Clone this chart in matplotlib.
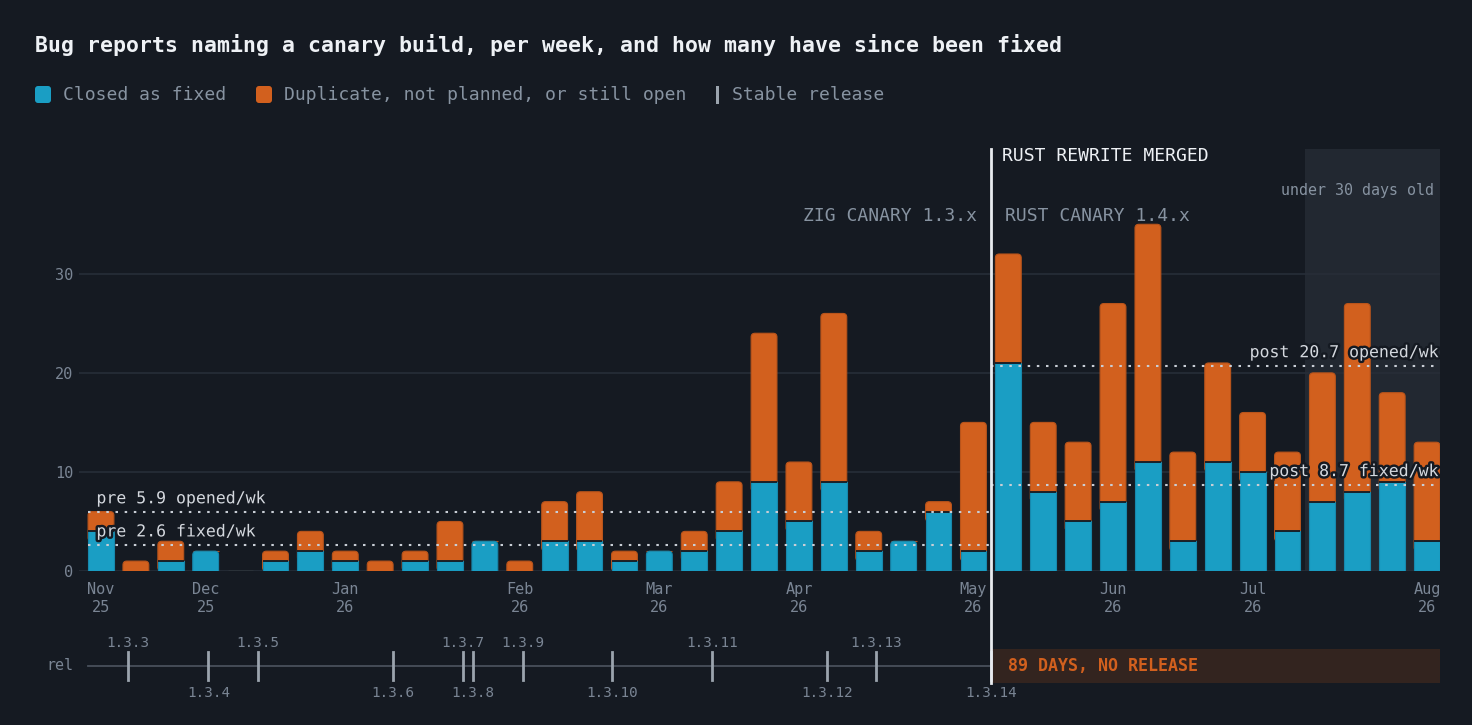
import matplotlib
matplotlib.use('Agg')
from matplotlib import pyplot as plt
from matplotlib.patches import FancyBboxPatch, Rectangle
from matplotlib.transforms import IdentityTransform, blended_transform_factory
import matplotlib.patheffects as pe
import numpy as np

# weekly counts, Nov 2025 -> Aug 2026
fixed = [4, 0, 1, 2, 0, 1, 2, 1, 0, 1, 1, 3, 0, 3, 3, 1, 2, 2, 4, 9, 5, 9, 2, 3, 6, 2,
         21, 8, 5, 7, 11, 3, 11, 10, 4, 7, 8, 9, 3]
opened = [6, 1, 3, 2, 0, 2, 4, 2, 1, 2, 5, 3, 1, 7, 8, 2, 2, 4, 9, 24, 11, 26, 4, 3, 7, 15,
          32, 15, 13, 27, 35, 12, 21, 16, 12, 20, 27, 18, 13]
month_idx = [0, 3, 7, 12, 16, 20, 25, 29, 33, 38]
month_labels = ['Nov\n25', 'Dec\n25', 'Jan\n26', 'Feb\n26', 'Mar\n26', 'Apr\n26',
                'May\n26', 'Jun\n26', 'Jul\n26', 'Aug\n26']
rewrite_week = 26          # first week on the rust canary
recent_from = 35           # weeks under 30 days old
releases = ['1.3.3', '1.3.4', '1.3.5', '1.3.6', '1.3.7', '1.3.8', '1.3.9',
            '1.3.10', '1.3.11', '1.3.12', '1.3.13', '1.3.14']
release_pos = [0.78, 3.08, 4.5, 8.36, 10.36, 10.65, 12.08, 14.65, 17.5, 20.8, 22.22, 25.5]

W, H = 1472, 725
BG = '#151a22'
BLUE = '#1a9ec4'
ORANGE = '#d2601e'
GRID = '#272e38'
MUTED = '#8793a1'
TICK = '#7a8594'
MONO = 'DejaVu Sans Mono'

fixed = np.array(fixed)
opened = np.array(opened)
other = opened - fixed
x = np.arange(len(fixed))

def px(xp, yp):
    return xp / W, 1 - yp / H

fig = plt.figure(figsize=(W / 100, H / 100), dpi=100, facecolor=BG)
plt.rcParams['font.family'] = MONO

ax = fig.add_axes([79 / W, 1 - 571 / H, (1440 - 79) / W, (571 - 149) / H])
ax.set_facecolor(BG)
xmin, xmax = -0.63, 38.37
ax.set_xlim(xmin, xmax)
ax.set_ylim(0, 42.6)
for s in ax.spines.values():
    s.set_visible(False)
ax.set_yticks([0, 10, 20, 30])
ax.grid(axis='y', color=GRID, lw=1.2, zorder=0.5)
ax.set_axisbelow(True)
ax.tick_params(axis='y', length=0, pad=4, labelsize=11, labelcolor=TICK)
ax.set_xticks(month_idx)
ax.set_xticklabels(month_labels, linespacing=1.2)
ax.tick_params(axis='x', length=0, pad=8, labelsize=11, labelcolor=TICK)

ax.axvspan(recent_from - 0.5, xmax, color='#222831', zorder=0.2, lw=0)

# bars, then round the top segment of each stack
bw = 0.74
aspect = (42.6 / 422) / ((xmax - xmin) / 1361)
b_fixed = ax.bar(x, fixed, bw, color=BLUE, edgecolor='#1788ad', lw=0.8, zorder=2)
b_other = ax.bar(x, other, bw, bottom=fixed, color=ORANGE, edgecolor='#b9541b', lw=0.8, zorder=2)
for rf, ro in zip(b_fixed, b_other):
    top = ro if ro.get_height() > 0 else rf
    if top.get_height() <= 0:
        continue
    x0, y0, w, h = top.get_x(), top.get_y(), top.get_width(), top.get_height()
    rr = FancyBboxPatch((x0, y0 - 1), w, h + 1,
                        boxstyle='round,pad=0,rounding_size=0.11', mutation_aspect=aspect,
                        fc=top.get_facecolor(), ec=top.get_edgecolor(), lw=0.8, zorder=2)
    ax.add_patch(rr)
    top.set_visible(False)
    if top is ro and rf.get_height() > 0:
        rf.set_zorder(3)
        ax.plot([x0, x0 + w], [y0, y0], color=BG, lw=1.3, zorder=4, solid_capstyle='butt')

# averages before / after the rewrite (last week is partial, left out)
pre_open = opened[:rewrite_week].mean()
pre_fix = fixed[:rewrite_week].mean()
post_open = opened[rewrite_week:-1].mean()
post_fix = fixed[rewrite_week:-1].mean()
split = rewrite_week - 0.5
halo = [pe.withStroke(linewidth=3.5, foreground=BG)]
dots = dict(color='#c9ced6', lw=1.5, ls=(0, (1.2, 3.2)), zorder=5)
for val, lab in [(pre_open, 'opened/wk'), (pre_fix, 'fixed/wk')]:
    ax.plot([-bw / 2, split], [val, val], **dots)
    ax.annotate(f'pre {val:.1f} {lab}', (-bw / 2, val), xytext=(6, 6.5),
                textcoords='offset points', va='baseline', ha='left', fontsize=11.9,
                color='#d4d8de', path_effects=halo, zorder=6)
for val, lab in [(post_open, 'opened/wk'), (post_fix, 'fixed/wk')]:
    ax.plot([split, xmax], [val, val], **dots)
    ax.annotate(f'post {val:.1f} {lab}', (xmax, val), xytext=(-2, 6.5),
                textcoords='offset points', va='baseline', ha='right', fontsize=11.9,
                color='#d4d8de', path_effects=halo, zorder=6)

# rewrite marker spanning both panels
tr = blended_transform_factory(ax.transData, fig.transFigure)
fig.add_artist(plt.Line2D([split, split], [1 - 683 / H, 1 - 149 / H], transform=tr,
                          color='#e8ebef', lw=2, zorder=10))
fig.text(*px(1002, 156), 'RUST REWRITE MERGED', ha='left', va='center', fontsize=13, color='#eef1f5')
fig.text(*px(977, 216), 'ZIG CANARY 1.3.x', ha='right', va='center', fontsize=13, color=MUTED)
fig.text(*px(1005, 216), 'RUST CANARY 1.4.x', ha='left', va='center', fontsize=13, color=MUTED)
fig.text(*px(1434, 190), 'under 30 days old', ha='right', va='center', fontsize=10.8, color=MUTED)

# release strip
rax = fig.add_axes([79 / W, 1 - 700 / H, (1440 - 79) / W, 68 / H])
rax.set_facecolor('none')
rax.set_xlim(xmin, xmax)
rax.set_ylim(-1, 1)
rax.axis('off')
rax.plot([-bw / 2, xmax], [0, 0], color='#48505b', lw=1.3, zorder=1)
rax.add_patch(Rectangle((split, -0.5), xmax - split, 1.0, fc='#33241f', ec='none', zorder=2))
for i, (name, p) in enumerate(zip(releases, release_pos)):
    rax.plot([p, p], [-0.4, 0.4], color='#9ba4ae', lw=2, zorder=3)
    yy = 0.68 if i % 2 == 0 else -0.8
    rax.text(p, yy, name, ha='center', va='center', fontsize=10.3, color=TICK)
rax.text(split + 0.48, 0, '89 DAYS, NO RELEASE', ha='left', va='center', fontsize=12,
         fontweight='bold', color=ORANGE, zorder=4)
fig.text(*px(73, 666), 'rel', ha='right', va='center', fontsize=10.8, color=TICK)

# title and legend
fig.text(*px(35, 45), 'Bug reports naming a canary build, per week, and how many have since been fixed',
         ha='left', va='center', fontsize=15.5, fontweight='bold', color='#eef1f5')
for xp, col, lab in [(35, BLUE, 'Closed as fixed'),
                     (256, ORANGE, 'Duplicate, not planned, or still open')]:
    fig.add_artist(FancyBboxPatch((xp, H - 103), 16, 17, boxstyle='round,pad=0,rounding_size=3',
                                  fc=col, ec='none', transform=IdentityTransform()))
    fig.text(*px(xp + 28, 95), lab, ha='left', va='center', fontsize=13, color=MUTED)
fig.add_artist(Rectangle((716, H - 104), 3, 18, fc='#9ba4ae', ec='none', transform=IdentityTransform()))
fig.text(*px(732, 95), 'Stable release', ha='left', va='center', fontsize=13, color=MUTED)

fig.savefig('out.png', dpi=100, facecolor=BG)
